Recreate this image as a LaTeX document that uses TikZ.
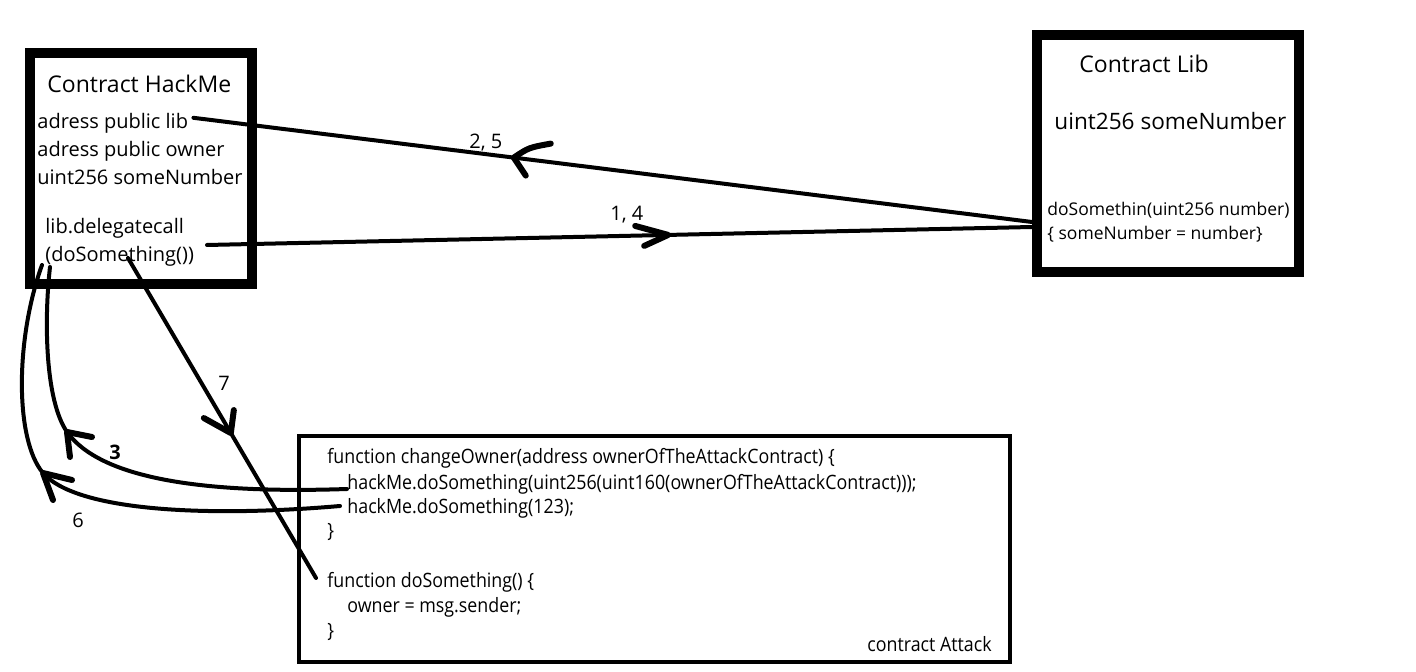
\documentclass[tikz,border=0pt]{standalone}
\usepackage{fontspec}
\setmainfont{Open Sans}
\newfontfamily\codefont[FakeStretch=0.9]{Open Sans}
\usetikzlibrary{calc}
\begin{document}
\begin{tikzpicture}[x=0.5pt,y=-0.5pt,
  frame/.style={draw=black,line width=5pt,inner sep=0pt},
  thinframe/.style={draw=black,line width=2pt,inner sep=0pt},
  txt/.style={inner sep=0pt,anchor=base west},
  conn/.style={line width=2pt,line cap=round},
  chev/.style={line width=3pt,line cap=round,line join=round},
  lbl/.style={inner sep=0pt,anchor=base west,font=\fontsize{10}{12}\selectfont}]
\useasboundingbox (0,0) rectangle (1416,672);

% contract boxes
\node[frame,minimum width=111pt,minimum height=115.5pt] (hackme) at (141,168.5) {};
\node[frame,minimum width=131pt,minimum height=118.5pt] (libbox) at (1168,153.5) {};
\node[thinframe,minimum width=355.5pt,minimum height=113pt] (attack) at (654.5,549) {};

% HackMe contents
\begin{scope}[every node/.style={txt,font=\fontsize{10}{12}\selectfont}]
\node[font=\fontsize{11.5}{14}\selectfont] (hmtitle) at (47,93) {Contract HackMe};
\node (hlib) at (37,129) {adress public lib};
\node (howner) at (37,157) {adress public owner};
\node (hnum) at (37,185) {uint256 someNumber};
\node (hdel) at (45,234) {lib.delegatecall};
\node (hdo) at (45,262) {(doSomething())};
\end{scope}

% Lib contents
\node[txt,font=\fontsize{11.5}{14}\selectfont] (libtitle) at (1079,73) {Contract Lib};
\node[txt,font=\fontsize{11.3}{14}\selectfont] (libnum) at (1054,130) {uint256 someNumber};
\node[txt,font=\fontsize{8.75}{11}\selectfont] (libfn) at (1047,216) {doSomethin(uint256 number)};
\node[txt,font=\fontsize{8.75}{11}\selectfont] (libbody) at (1047,240) {\{ someNumber = number\}};

% Attack contents
\begin{scope}[every node/.style={txt,font=\codefont\fontsize{9.9}{12}\selectfont}]
\node (a1) at (327,464) {function changeOwner(address ownerOfTheAttackContract) \{};
\node (a2) at (347,489) {hackMe.doSomething(uint256(uint160(ownerOfTheAttackContract)));};
\node (a3) at (347,513) {hackMe.doSomething(123);};
\node (a4) at (327,538) {\}};
\node (a5) at (327,587) {function doSomething() \{};
\node (a6) at (347,612) {owner = msg.sender;};
\node (a7) at (327,637) {\}};
\node (atitle) at (867,651) {contract Attack};
\end{scope}

% connector end points
\coordinate (libA) at (1032,222);
\coordinate (libB) at (1032,227);
\coordinate (delOut) at (207,245);
\coordinate (doOut) at (128,258);
\coordinate (fnIn) at (316,578);
\coordinate (c3start) at (347,489);
\coordinate (c3end) at (50,267);
\coordinate (c6start) at (340,506);
\coordinate (c6end) at (42,265);

% 2, 5 : lib -> HackMe
\draw[conn] ($(hlib.east)+(5,-6)$) -- coordinate[pos=0.382] (m25) (libA);
\draw[chev] ($(m25)+(37,-14)$) .. controls ($(m25)+(15,-10)$) .. (m25) -- ($(m25)+(12,18)$);
\node[lbl] (l25) at (469,149) {2, 5};

% 1, 4 : delegatecall -> Lib
\draw[conn] (delOut) -- coordinate[pos=0.559] (m14) (libB);
\draw[chev] ($(m14)+(-33,-9)$) -- (m14) -- ($(m14)+(-24,11)$);
\node[lbl] (l14) at (610,221) {1, 4};

% 7 : doSomething -> Attack.doSomething
\draw[conn] (doOut) -- coordinate[pos=0.547] (m7) (fnIn);
\draw[chev] ($(m7)+(-27,-15)$) -- (m7) -- ($(m7)+(3,-23)$);
\node[lbl] (l7) at (218,391) {7};

% 3 : changeOwner call -> HackMe
\coordinate (m3) at (67,432);
\draw[conn] (c3start) .. controls (200,494) and (100,478) .. (m3)
  .. controls (45,400) and (44,320) .. (c3end);
\draw[chev] ($(m3)+(25,5)$) -- (m3) -- ($(m3)+(3,25)$);
\node[lbl,font=\bfseries\fontsize{10}{12}\selectfont] (l3) at (109,460) {3};

% 6 : doSomething(123) -> HackMe
\coordinate (m6) at (43,473);
\draw[conn] (c6start) .. controls (200,518) and (75,510) .. (m6)
  .. controls (15,440) and (15,340) .. (c6end);
\draw[chev] ($(m6)+(29,7)$) -- (m6) -- ($(m6)+(10,27)$);
\node[lbl] (l6) at (72,527) {6};
\end{tikzpicture}
\end{document}
